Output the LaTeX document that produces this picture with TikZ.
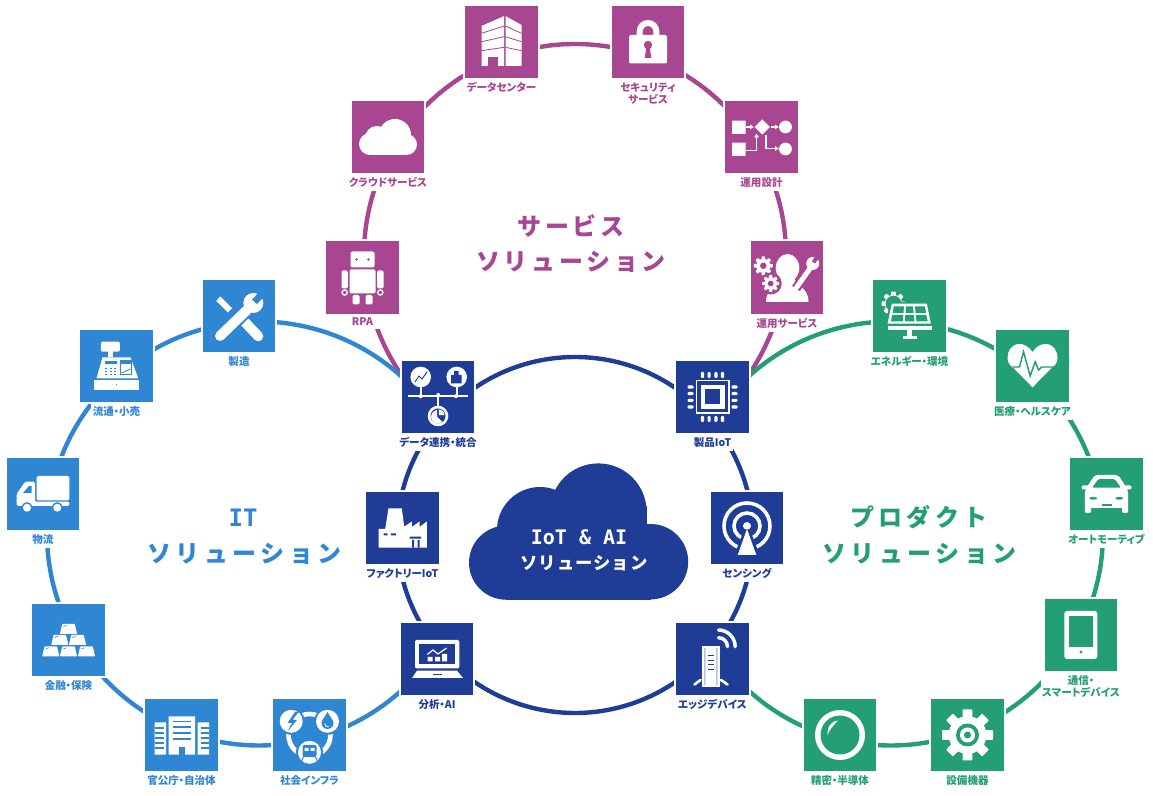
\documentclass[tikz,border=0pt]{standalone}
\usepackage{fontspec}
\usetikzlibrary{calc,backgrounds,arrows.meta}
\newfontfamily\jp[RawFeature={+palt}]{Noto Sans CJK JP}
\newfontfamily\jpt[LetterSpace=15.5]{Noto Sans CJK JP}
\newfontfamily\jptt[LetterSpace=18.5]{Noto Sans CJK JP}
\newfontfamily\jpc[LetterSpace=6]{Noto Sans CJK JP}
\newfontfamily\mono{DejaVu Sans Mono}
\definecolor{sv}{HTML}{A84692}
\definecolor{it}{HTML}{2F86D3}
\definecolor{pr}{HTML}{239E75}
\definecolor{nv}{HTML}{1F3C96}
\tikzset{
  tile/.style={inner sep=0,outer sep=0,minimum width=54.6pt,minimum height=54.2pt,preaction={draw=white,line width=3pt}},
  lab/.style={anchor=north,fill=white,inner xsep=1pt,inner ysep=2.5pt,align=center,font=\jp\bfseries\fontsize{7.9}{9}\selectfont},
  ring/.style={line width=3.3pt},
  onring/.style 2 args={to path={let \p1=(\tikztostart),\p2=(\tikztotarget),\p0=(#1),
    \n1={atan2(\y1-\y0,\x1-\x0)},\n2={atan2(\y2-\y0,\x2-\x0)},\n3={\n2+360*round((\n1-\n2)/360)}
    in ($(#1)+(\n1:#2)$) arc[start angle=\n1,end angle=\n3,radius=#2]}},
  ttl/.style={font=\jpt\bfseries\fontsize{18}{26}\selectfont,align=center,inner sep=0},
  ttlb/.style={font=\jptt\bfseries\fontsize{18}{26}\selectfont,align=center,inner sep=0},
  wl/.style={white,line cap=round},
}
\newcommand\tile[5]{\node[tile,fill=#2] (#1) at (#3,{796-#4}) {};
  \node[lab,text=#2] (#1-l) at ($(#1.south)+(0,-.8)$) {#5};}
\newcommand\gearshape[4]{\begin{scope}[shift={(#1,#2)}]
  \foreach \a in {0,45,...,315} \fill[white,rotate=\a,rounded corners=0.5pt] ({-#3*.19},0) rectangle ({#3*.19},#3);
  \fill[white] (0,0) circle ({#3*.74}); \fill[#4] (0,0) circle ({#3*.34}); \end{scope}}
\begin{document}
\begin{tikzpicture}[x=0.75pt,y=0.75pt]
\useasboundingbox (0,0) rectangle (1153,796);
\coordinate (pc) at (575,541);
\coordinate (bc) at (259,262.5);
\coordinate (gc) at (891,262.5);
\coordinate (nc) at (575,261);
% ---------- service
\tile{dc}{sv}{501.5}{42}{データセンター}
\tile{sec}{sv}{648}{42}{セキュリティ\\サービス}
\tile{cloud}{sv}{388}{137}{クラウドサービス}
\tile{sekkei}{sv}{761.5}{137}{運用設計}
\tile{rpa}{sv}{362.5}{277.5}{\hspace*{8pt}RPA\hspace*{8pt}}
\tile{usv}{sv}{787}{277.5}{運用サービス}
% ---------- centre
\tile{data}{nv}{438}{397}{データ連携・統合}
\tile{seihin}{nv}{712.5}{397}{製品IoT}
\tile{fact}{nv}{402.5}{528}{ファクトリーIoT}
\tile{sens}{nv}{747}{528}{センシング}
\tile{anal}{nv}{437}{659}{分析・AI}
\tile{edge}{nv}{712.5}{659}{エッジデバイス}
% ---------- IT
\tile{seizo}{it}{239}{316}{製造}
\tile{ryutsu}{it}{116.5}{366}{流通・小売}
\tile{butsu}{it}{43}{494}{物流}
\tile{kinyu}{it}{68.5}{640}{金融・保険}
\tile{kancho}{it}{181.5}{735}{官公庁・自治体}
\tile{shakai}{it}{309.5}{735}{社会インフラ}
% ---------- product
\tile{energy}{pr}{909.5}{316}{エネルギー・環境}
\tile{iryo}{pr}{1032.5}{366}{医療・ヘルスケア}
\tile{auto}{pr}{1106.5}{494}{オートモーティブ}
\tile{tsu}{pr}{1081}{635}{通信・\\スマートデバイス}
\tile{setsubi}{pr}{967.5}{735}{設備機器}
\tile{seimitsu}{pr}{840}{735}{精密・半導体}
% ---------- connectors
\begin{scope}[on background layer]
\begin{scope}[ring,sv]
\draw (dc) to[onring={pc}{158.25pt}] (sec);
\draw (sec) to[onring={pc}{158.25pt}] (sekkei);
\draw (sekkei) to[onring={pc}{158.25pt}] (usv);
\draw (usv) to[onring={pc}{158.25pt}] (seihin);
\draw (dc) to[onring={pc}{158.25pt}] (cloud);
\draw (cloud) to[onring={pc}{158.25pt}] (rpa);
\draw (rpa) to[onring={pc}{158.25pt}] (data);
\end{scope}
\begin{scope}[ring,it]
\draw (data) to[onring={bc}{159pt}] (seizo);
\draw (seizo) to[onring={bc}{159pt}] (ryutsu);
\draw (ryutsu) to[onring={bc}{159pt}] (butsu);
\draw (butsu) to[onring={bc}{159pt}] (kinyu);
\draw (kinyu) to[onring={bc}{159pt}] (kancho);
\draw (kancho) to[onring={bc}{159pt}] (shakai);
\draw (shakai) to[onring={bc}{159pt}] (anal);
\end{scope}
\begin{scope}[ring,pr]
\draw (seihin) to[onring={gc}{159pt}] (energy);
\draw (energy) to[onring={gc}{159pt}] (iryo);
\draw (iryo) to[onring={gc}{159pt}] (auto);
\draw (auto) to[onring={gc}{159pt}] (tsu);
\draw (tsu) to[onring={gc}{159pt}] (setsubi);
\draw (setsubi) to[onring={gc}{159pt}] (seimitsu);
\draw (seimitsu) to[onring={gc}{159pt}] (edge);
\end{scope}
\begin{scope}[ring,nv]
\draw (data) to[onring={nc}{133.5pt}] (seihin);
\draw (seihin) to[onring={nc}{133.5pt}] (sens);
\draw (sens) to[onring={nc}{133.5pt}] (edge);
\draw (edge) to[onring={nc}{133.5pt}] (anal);
\draw (anal) to[onring={nc}{133.5pt}] (fact);
\draw (fact) to[onring={nc}{133.5pt}] (data);
\end{scope}
\end{scope}
% ---------- central cloud
\begin{scope}[nv]
\fill (506,233.3) circle (37);
\fill (650.5,234.3) circle (37.7);
\fill (598.3,284.3) circle (48.3);
\fill (540,266) circle (43);
\fill (506,196.3) rectangle (651,250);
\fill (530,240) rectangle (646.7,290);
\end{scope}
\node[white,inner sep=0,font=\mono\bfseries\fontsize{15}{18}\selectfont] (cl1) at (579,259) {IoT \& AI};
\node[white,inner sep=0,font=\jpc\bfseries\fontsize{13}{18}\selectfont] (cl2) at (584,233) {ソリューション};
% ---------- titles
\node[ttl,text=sv] (t1) at (571,570) {サービス};
\node[ttl,text=sv] (t1b) at (571,534) {ソリューション};
\node[ttl,text=it,font=\mono\bfseries\fontsize{18}{26}\selectfont] (t2) at (243,278) {IT};
\node[ttlb,text=it] (t2b) at (244.5,242) {ソリューション};
\node[ttlb,text=pr] (t3) at (919,279) {プロダクト};
\node[ttlb,text=pr] (t3b) at (919.5,242) {ソリューション};
% ---------- icons: service
\begin{scope}[shift={(dc)}]
\fill[white] (-20,16)--(2.7,26)--(2.7,-24)--(-20,-24)--cycle;
\fill[white] (4,26)--(20,17)--(20,-24)--(4,-24)--cycle;
\draw[sv,line width=.6pt] (-20,8.7)--(2.7,16) (-20,.3)--(2.7,5.3) (-20,-8.7)--(2.7,-5.3) (4,16)--(20,8.7) (4,5.3)--(20,.3) (4,-5.3)--(20,-8.7);
\fill[sv] (-14,-15.3) rectangle (-3.3,-24);
\end{scope}
\begin{scope}[shift={(sec)}]
\draw[white,line width=4.5pt] (-8.3,7)--(-8.3,10.7) arc[start angle=180,end angle=0,radius=8.3]--(8.3,7);
\fill[white,rounded corners=1pt] (-19,7) rectangle (19,-21.5);
\fill[sv] (0,-3) circle (4.2);
\fill[sv] (-1.5,-3)--(-3.2,-16)--(3.2,-16)--(1.5,-3)--cycle;
\end{scope}
\begin{scope}[shift={(cloud)},white]
\fill (7,2) circle (16); \fill (-11,-1) circle (12); \fill (-18,-7) circle (11); \fill (18.5,-7.5) circle (10.5);
\fill (-18,-18) rectangle (18.5,-4);
\end{scope}
\begin{scope}[shift={(sekkei)}]
\fill[white] (-29.3,16.3) rectangle (-16,3) (-29.3,-5.6) rectangle (-16,-19);
\fill[white] (.7,17.7)--(8.4,10)--(.7,2.3)--(-7,10)--cycle;
\fill[white] (24,10) circle (6.4) (24,-12) circle (6.4);
\draw[white,line width=1.2pt,-{Latex[length=3pt,width=4pt]}] (-16,10)--(-7.5,10);
\draw[white,line width=1.2pt,-{Latex[length=3pt,width=4pt]}] (9,10)--(17.5,10);
\draw[white,line width=1.2pt,-{Latex[length=3pt,width=4pt]}] (-16,-13.5)--(-5,-13.5)--(-5,3.5);
\draw[white,line width=1.2pt,-{Latex[length=3pt,width=4pt]}] (4.5,1.5)--(4.5,-11.5)--(17.5,-11.5);
\end{scope}
\begin{scope}[shift={(rpa)}]
\fill[white,rounded corners=1.5pt] (-12,26) rectangle (12,10);
\fill[sv] (-6,18) circle (1.4) (6,18) circle (1.4);
\fill[white,rounded corners=1pt] (-13,8) rectangle (13,-16);
\fill[white,rounded corners=1pt] (-21,7) rectangle (-14.7,-11) (14.7,7) rectangle (21,-11);
\draw[white,line width=1pt] (-17.8,-15) circle (2.6) (17.8,-15) circle (2.6);
\fill[white,rounded corners=1pt] (-10,-17.5) rectangle (-3,-27) (3,-17.5) rectangle (10,-27);
\end{scope}
\begin{scope}[shift={(usv)}]
\fill[white] (.5,9.5) ellipse (11.8 and 14);
\fill[white] (-6,1) .. controls (-6,-8) and (-21,-9) .. (-21,-24.3) -- (21.5,-24.3) .. controls (21.5,-9) and (7,-8) .. (7,1) -- cycle;
\gearshape{-23.7}{11.7}{9.5}{sv}
\fill[sv] (-16.3,-6) circle (11);
\gearshape{-16.3}{-6}{8.5}{sv}
\draw[sv,line width=7pt] (9,-11)--(23,9);
\draw[white,line width=3.8pt,line cap=round] (9.5,-10)--(23,9);
\fill[white] (25.7,14) circle (6.5);
\draw[sv,line width=3pt] (26.5,15)--(33,25);
\end{scope}
% ---------- icons: centre
\begin{scope}[shift={(data)}]
\draw[white,line width=1.2pt] (-30,1)--(30,1) (-17.3,1)--(-17.3,12) (18.7,1)--(18.7,12) (0,1)--(0,-10);
\fill[white] (-17.3,.8) circle (2) (.2,2) circle (2) (18,.8) circle (2);
\fill[white] (-17.3,20) circle (10.3) (18.7,20) circle (10.3) (0,-19) circle (10.3);
\draw[nv,line width=.7pt] (-23,15)--(-19,21)--(-16,18)--(-11,25);
\fill[nv] (13,13.5) rectangle (23.5,22) (16,22) rectangle (20.5,26);
\fill[nv] (0,-19) circle (7.5);
\fill[white] (.8,-18.2)--(.8,-12.5) arc[start angle=90,end angle=0,radius=5.7]--cycle;
\fill[white] (-.8,-19.8)--(-.8,-13) arc[start angle=96,end angle=310,radius=6.8]--cycle;
\end{scope}
\begin{scope}[shift={(seihin)}]
\fill[white] (-17,17) rectangle (17,-17);
\fill[nv] (-15.5,15.5) rectangle (15.5,-15.5);
\fill[white] (-12,12) rectangle (12,-12);
\fill[nv] (-7.5,7.5) rectangle (7.5,-7.5);
\foreach \t in {-10,-3.4,3.4,10}{
 \fill[white,rounded corners=.8pt] (\t-1.6,19) rectangle (\t+1.6,25);
 \fill[white,rounded corners=.8pt] (\t-1.6,-19) rectangle (\t+1.6,-25);
 \fill[white,rounded corners=.8pt] (19,\t-1.6) rectangle (25,\t+1.6);
 \fill[white,rounded corners=.8pt] (-19,\t-1.6) rectangle (-25,\t+1.6);}
\end{scope}
\begin{scope}[shift={(fact)}]
\fill[white] (-14,19.7)--(-.7,19.7)--(2,-1)--(-2,-1)--(9.3,6.5)--(9.3,1)--(17,6.5)--(17,1)--(24.3,6.5)--(24.3,-19.7)--(-24,-19.7)--(-24,-1)--(-17.3,-1)--cycle;
\fill[nv] (-19,-5.3) rectangle (-15,-7.3) (-11.7,-5.3) rectangle (-6.3,-7.3);
\fill[nv] (7,-8.7) rectangle (18.7,-10.7) (9.5,-12) rectangle (11.5,-19.7) (15,-12) rectangle (17,-19.7);
\end{scope}
\begin{scope}[shift={(sens)}]
\draw[white,line width=2.7pt] (0,2) circle (23) (0,2) circle (13);
\fill[white] (0,2) circle (4);
\fill[nv] (0,6)--(-13,-28)--(13,-28)--cycle;
\fill[white] (0,-1)--(-9.3,-27)--(9.3,-27)--cycle;
\fill[white] (0,2) circle (3.6);
\end{scope}
\begin{scope}[shift={(anal)}]
\fill[white,rounded corners=1pt] (-22,19) rectangle (22.3,-9.5);
\fill[nv] (-18,15) rectangle (18,-5.5);
\fill[white] (-9.5,-2.3) rectangle (-4.5,2) (-2,-2.3) rectangle (3,2) (5,-2.3) rectangle (10,5);
\draw[white,line width=.9pt] (-9.7,4.5)--(-4,9)--(1,5)--(9.5,11);
\fill[white] (-20,-11.7)--(20,-11.7)--(26,-19)--(-25,-19)--cycle;
\draw[nv,line width=.7pt] (-4,-15.5)--(5,-15.5);
\end{scope}
\begin{scope}[shift={(edge)}]
\fill[white] (-10.3,13) rectangle (7,-27.7);
\fill[nv!30] (-8.5,11) rectangle (-7,-26) (3.5,11) rectangle (5,-26);
\draw[nv,line width=.6pt] (-5,3.3)--(1,3.3) (-5,-1)--(1,-1) (-5,-5)--(1,-5) (-5,-10)--(1,-10);
\draw[wl,line width=2pt] (-12,-21)--(-18,-25.5) (8.5,-21)--(15,-25.5);
\draw[wl,line width=2.6pt] (6,29) arc[start angle=90,end angle=0,radius=16.7];
\draw[wl,line width=2.6pt] (6,21.3) arc[start angle=90,end angle=0,radius=9];
\end{scope}
% ---------- icons: IT
\begin{scope}[shift={(seizo)}]
\draw[wl,line width=4.5pt,line cap=butt] (-20.7,17.3)--(-9,5.7);
\draw[wl,line width=7.5pt] (2.7,-2.7)--(19.3,-20.3);
\draw[it,line width=10.5pt] (-19,-20)--(7.7,5.7);
\draw[wl,line width=7.5pt] (-19,-20)--(7.7,5.7);
\fill[white] (14.3,13) circle (10);
\draw[it,line width=5pt] (15.5,14.2)--(27,26);
\end{scope}
\begin{scope}[shift={(ryutsu)}]
\fill[white,rounded corners=1pt] (-15.7,24.3) rectangle (3.3,14.3);
\fill[white] (-8.3,14.5) rectangle (-3.3,9);
\fill[white] (-14,8.7)--(14,8.7)--(21.7,-12.3)--(-20,-12.3)--cycle;
\fill[white] (-22.7,-14) rectangle (22.7,-24);
\fill[it] (-.5,-19.5) rectangle (.7,-18.5);
\fill[it] (-11.7,5.3) rectangle (0,1.7);
\draw[it,line width=.6pt] (4,5.3) rectangle (15,-8);
\fill[it] (4,5.3) rectangle (15,1.5);
\draw[it,line width=.6pt] (5,-7)--(14,-3);
\foreach \kx in {-11.5,-7,-2.5} \foreach \ky in {-3,-6,-9} \fill[it] (\kx,\ky) rectangle (\kx+2.4,\ky+1.3);
\end{scope}
\begin{scope}[shift={(butsu)}]
\fill[white,rounded corners=1pt] (-6.3,18) rectangle (26.3,-6.3);
\fill[white,rounded corners=1pt] (-26.3,-12)--(-26.3,0)--(-18,12.3)--(-8,12.3)--(-8,-7.7)--(26.3,-7.7)--(26.3,-12)--cycle;
\fill[it] (-20,1)--(-14,8)--(-11.3,8)--(-11.3,1)--cycle;
\fill[it] (-16,-13.7) circle (5.6) (14.3,-13.7) circle (5.6);
\fill[white] (-16,-13.7) circle (4) (14.3,-13.7) circle (4);
\end{scope}
\begin{scope}[shift={(kinyu)}]
\foreach \bx/\by in {0/6,-8.7/-5,9/-5,-17.7/-16.3,0/-16.3,18/-16.3}{
 \fill[white,rounded corners=.4pt] (\bx-8.6,\by)--(\bx-6.2,\by+10)--(\bx+6.2,\by+10)--(\bx+8.6,\by)--cycle;
 \draw[it,line width=.5pt] (\bx-5,\by+7.5)--(\bx-2,\by+8.5);}
\end{scope}
\begin{scope}[shift={(kancho)}]
\fill[white] (-13,18.7) rectangle (13.7,-19.7) (-27,12.7) rectangle (-15.3,-19.7) (16,12.7) rectangle (27.7,-19.7);
\draw[it,line width=1pt] (-9,13.7)--(9.7,13.7) (-9,8)--(9.7,8) (-9,2)--(9.7,2) (-9,-4)--(9.7,-4);
\foreach \sy in {7,2,-3,-8,-13} \draw[it,line width=.9pt] (-27,\sy)--(-18,\sy) (19,\sy)--(27.7,\sy);
\fill[it] (-3,-12.3) rectangle (3,-19.7);
\end{scope}
\begin{scope}[shift={(shakai)}]
\draw[white,line width=3.5pt] (0,0) circle (21);
\fill[it] (-18.3,13.7) circle (13.5) (18,13.7) circle (13.5) (0,-17.3) circle (13.5);
\fill[white] (-18.3,13.7) circle (11.5) (18,13.7) circle (11.5) (0,-17.3) circle (11.5);
\fill[it] (-14.5,23)--(-22,12)--(-17.5,12)--(-22,3.5)--(-12.5,15)--(-17,15)--(-11,23)--cycle;
\fill[it] (18,23)..controls (16,19) and (12,15) .. (12,12) arc[start angle=180,end angle=360,radius=6] .. controls (24,15) and (20,19) .. (18,23)--cycle;
\draw[white,line width=.6pt] (15,11.5) arc[start angle=180,end angle=290,radius=3.5];
\fill[it,rounded corners=1pt] (-7,-10) rectangle (7,-22);
\fill[white] (-5,-13) rectangle (-1,-16) (1,-13) rectangle (5,-16);
\draw[it,line width=.8pt] (-6,-22)--(-8,-26) (6,-22)--(8,-26);
\end{scope}
% ---------- icons: product
\begin{scope}[shift={(energy)}]
\gearshape{-16}{12.3}{12}{pr}
\fill[pr] (-16,12.3) circle (8);
\fill[pr] (-19.5,14.3)--(19.5,14.3)--(24,-9.5)--(-24,-9.5)--cycle;
\fill[white] (-17.7,12.3)--(17.3,12.3)--(21.3,-7.7)--(-22,-7.7)--cycle;
\fill[pr] (-15.8,9.7)--(-5.5,9.7)--(-6,3.2)--(-16.8,3.2)--cycle (-3.5,9.7)--(3.5,9.7)--(4.2,3.2)--(-4,3.2)--cycle (5.5,9.7)--(15.5,9.7)--(16.5,3.2)--(6,3.2)--cycle;
\fill[pr] (-17.2,1.2)--(-6.2,1.2)--(-6.8,-5.5)--(-18.6,-5.5)--cycle (-4.2,1.2)--(4.4,1.2)--(5,-5.5)--(-4.8,-5.5)--cycle (6.2,1.2)--(16.9,1.2)--(18.2,-5.5)--(7,-5.5)--cycle;
\fill[white] (-22,-10.3) rectangle (22.3,-13.7);
\fill[white] (-2.7,-13.7) rectangle (2.3,-20);
\fill[white] (-6.7,-20)--(7.3,-20)--(7.3,-23.3)--(-6.7,-23.3)--cycle;
\end{scope}
\begin{scope}[shift={(iryo)}]
\fill[white] (0,14)..controls(-4,20)and(-9,22)..(-13,22)..controls(-21,22)and(-25,15)..(-25,8)..controls(-25,3)and(-22,0)..(-19,-2)--(0,-21.3)--(19,-2)..controls(22,0)and(25,3)..(25,8)..controls(25,15)and(21,22)..(13,22)..controls(9,22)and(4,20)..(0,14)--cycle;
\draw[pr,line width=1.1pt] (-20,-1)--(-13,-1)--(-9,14.3)--(-2.3,-10)--(2.7,4.3)--(6,-4)--(9.3,-1)--(23,-1);
\end{scope}
\begin{scope}[shift={(auto)}]
\fill[white,rounded corners=2pt] (-11.7,19)--(11.7,19)--(20,6.3)--(21.7,2)--(21.7,-14)--(-21.7,-14)--(-21.7,2)--(-20,6.3)--cycle;
\fill[white,rounded corners=1pt] (-25,8.5) rectangle (-17,4.5) (17,8.5) rectangle (25,4.5);
\fill[white,rounded corners=1pt] (-21.7,-12) rectangle (-15.5,-19) (15.5,-12) rectangle (21.7,-19);
\fill[pr,rounded corners=1pt] (-8,15)--(8,15)--(14.5,6.3)--(-14.5,6.3)--cycle;
\fill[pr] (-13.3,-4.3) ellipse (4 and 1.4) (12.7,-4.3) ellipse (4 and 1.4);
\fill[pr] (-5,-10.3) rectangle (5,-12.3);
\end{scope}
\begin{scope}[shift={(tsu)}]
\fill[white,rounded corners=2pt] (-16.7,24) rectangle (16.3,-24);
\fill[pr] (-11.7,19) rectangle (11.7,-11.7);
\fill[pr] (0,-17) circle (1.7);
\end{scope}
\gearshape{967.5}{61}{25.5}{pr}
\fill[white] (967.5,61) circle (18.5);
\fill[pr] (967.5,61) circle (11.5);
\fill[white] (967.5,61) circle (7.5);
\fill[pr] (967.5,61) circle (3.5);
\begin{scope}[shift={(seimitsu)}]
\fill[white] (0,0) circle (25);
\fill[pr] (0,0) circle (19.5);
\fill[white] (-12.5,-.5) .. controls (-11,5) and (-7,9) .. (-2,14.5) .. controls (-8,14) and (-13,9) .. (-12.5,-.5) -- cycle;
\end{scope}
\end{tikzpicture}
\end{document}
